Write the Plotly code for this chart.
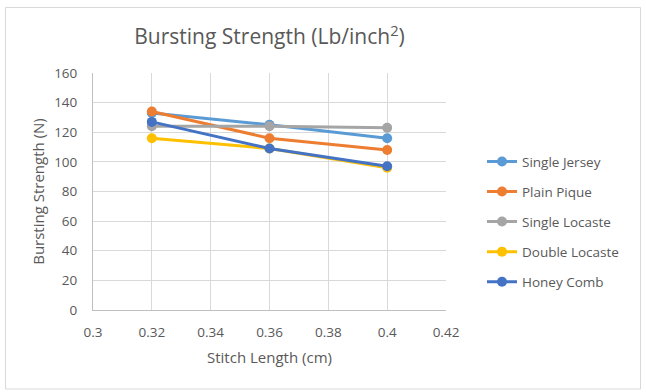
import plotly.graph_objects as go

stitch_length = [0.32, 0.36, 0.40]
series_names = ["Single Jersey", "Plain Pique", "Single Locaste", "Double Locaste", "Honey Comb"]
single_jersey = [133, 125, 116]
plain_pique = [134, 116, 108]
single_locaste = [124, 124, 123]
double_locaste = [116, 109, 96]
honey_comb = [127, 109, 97]
series_values = [single_jersey, plain_pique, single_locaste, double_locaste, honey_comb]
colors = ["#5B9BD5", "#ED7D31", "#A5A5A5", "#FFC000", "#4472C4"]

x_ticks = [0.3, 0.32, 0.34, 0.36, 0.38, 0.4, 0.42]
x_ticktext = ["0.3", "0.32", "0.34", "0.36", "0.38", "0.4", "0.42"]
y_ticks = [0, 20, 40, 60, 80, 100, 120, 140, 160]

W, H = 646, 392
L, R, T, B = 93, 200, 73, 82
pw, ph = W - L - R, H - T - B

def px_x(p):
    return (p - L) / pw

def px_y(p):
    return (H - B - p) / ph

FONT = "Open Sans"
TXT = "#595959"
GRID = "#D9D9D9"

fig = go.Figure()
for i, (name, vals, c) in enumerate(zip(series_names, series_values, colors)):
    fig.add_trace(go.Scatter(
        x=stitch_length, y=vals, name=name, mode="lines+markers",
        line=dict(color=c, width=3),
        marker=dict(color=c, size=10),
        legendgroup=f"g{i}",
    ))

fig.update_layout(
    width=W, height=H,
    margin=dict(l=L, r=R, t=T, b=B, autoexpand=False),
    paper_bgcolor="white", plot_bgcolor="white",
    font=dict(family=FONT, color=TXT, size=13.5),
    title=dict(text="Bursting Strength (Lb/inch<sup>2</sup>)", x=0.5, xref="paper",
               xanchor="center", y=1 - 37 / H, yanchor="middle",
               font=dict(family=FONT, size=21, color=TXT)),
    showlegend=True,
    legend=dict(x=px_x(482), y=px_y(221.7), xanchor="left", yanchor="middle",
                font=dict(family=FONT, size=13.5, color=TXT),
                tracegroupgap=9.5, bgcolor="rgba(0,0,0,0)", itemwidth=30),
    xaxis=dict(range=[0.3, 0.42], tickvals=x_ticks, ticktext=x_ticktext,
               showgrid=True, gridcolor=GRID, gridwidth=1,
               showline=True, linecolor="#BFBFBF", linewidth=1,
               zeroline=False, ticks="", ticklabelstandoff=10,
               tickfont=dict(size=13.5),
               title=dict(text="Stitch Length (cm)", font=dict(family=FONT, size=15, color=TXT), standoff=12),
               fixedrange=True),
    yaxis=dict(range=[0, 160], tickvals=y_ticks,
               showgrid=True, gridcolor=GRID, gridwidth=1,
               showline=True, linecolor="#BFBFBF", linewidth=1,
               zeroline=False, ticks="", ticklabelstandoff=12,
               tickfont=dict(size=13.5),
               title=dict(text="Bursting Strength (N)", font=dict(family=FONT, size=15, color=TXT), standoff=5),
               fixedrange=True),
    shapes=[dict(type="rect", xref="paper", yref="paper",
                 x0=px_x(5.5), x1=px_x(640.5), y0=px_y(389), y1=px_y(7.5),
                 line=dict(color="#D9D9D9", width=1), fillcolor="rgba(0,0,0,0)", layer="below")],
)

fig.write_html("out.html", config={"displayModeBar": False},
               post_script="document.body.style.margin='0';document.body.style.overflow='hidden';")
